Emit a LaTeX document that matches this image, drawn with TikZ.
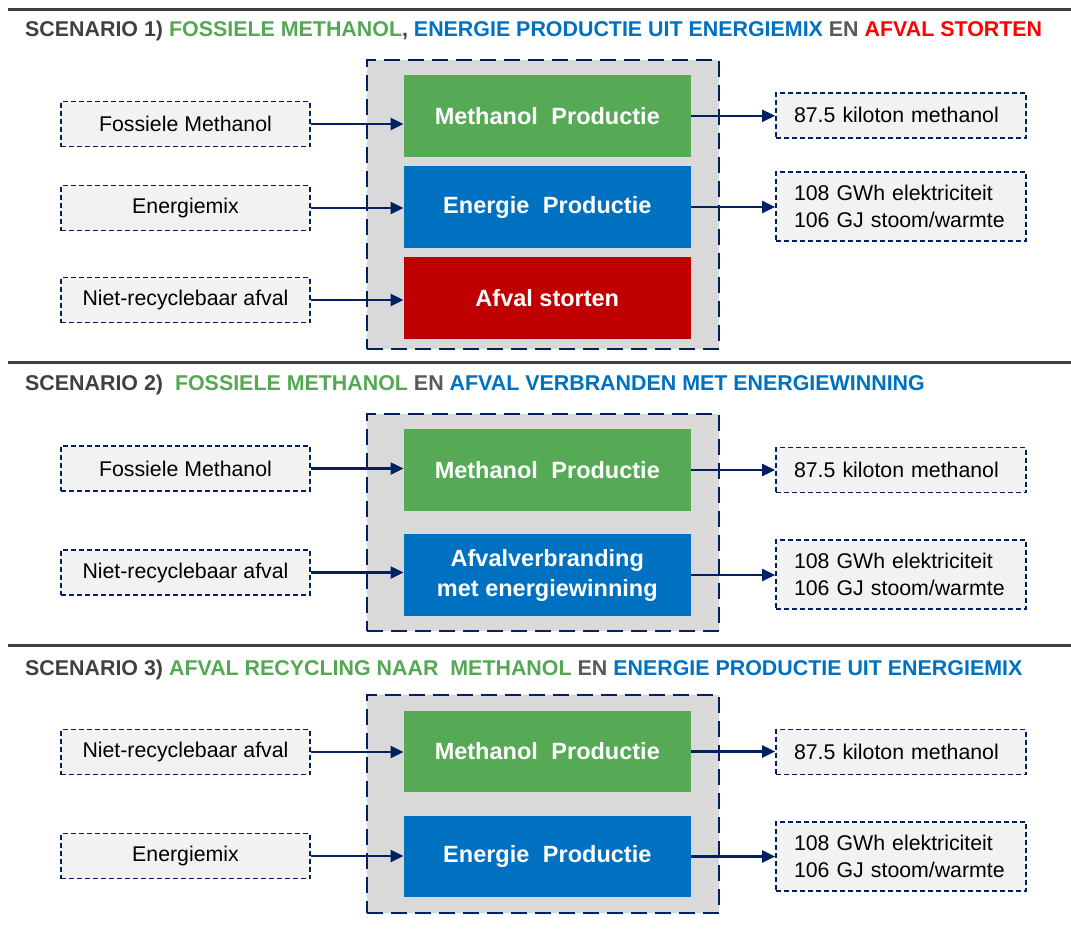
\documentclass[tikz,border=0pt]{standalone}
\usepackage{xcolor}
\usepackage{fontspec}
\setmainfont{Liberation Sans}
\usetikzlibrary{arrows.meta, calc}

\definecolor{navy}{HTML}{002060}
\definecolor{procgreen}{RGB}{86,170,86}
\definecolor{procblue}{HTML}{0070C0}
\definecolor{procred}{HTML}{C00000}
\definecolor{titlegreen}{RGB}{84,168,84}
\definecolor{titleblue}{HTML}{0070C0}
\definecolor{titlered}{HTML}{FF0000}
\definecolor{titlegray}{HTML}{404040}
\definecolor{engray}{HTML}{595959}
\definecolor{boxgray}{HTML}{F2F2F2}
\definecolor{contgray}{HTML}{D9D9D9}

\begin{document}
\begin{tikzpicture}[x=1pt, y=-1pt, >={Triangle[length=13pt, width=12pt]},
  every node/.style={font=\fontsize{21.3}{27.5}\selectfont},
  inbox/.style={draw=navy, fill=boxgray, dash pattern=on 5pt off 3pt, line width=1.7pt, minimum width=249pt, minimum height=45pt, inner sep=0pt},
  outbox/.style={inbox, minimum width=250pt, text width=214pt, inner xsep=18pt, align=left},
  proc/.style={minimum width=287pt, minimum height=81.5pt, inner sep=0pt, text=white, align=center, font=\fontsize{23.5}{30}\selectfont\bfseries},
  cont/.style={draw=navy, fill=contgray, dash pattern=on 16pt off 8pt, line width=2pt, minimum width=352pt, inner sep=0pt},
  title/.style={anchor=base west, inner sep=0pt, font=\fontsize{21.4}{24}\selectfont\bfseries},
  flow/.style={->, draw=navy, line width=2.1pt},
  sepline/.style={draw=titlegray, line width=3.5pt}]
  \useasboundingbox (0,0) rectangle (1071,929);

  % scenario 1
  \draw[sepline] (8,9.3) -- (1071,9.3);
  \node[title] (title1) at (25,36.7) {\textcolor{titlegray}{SCENARIO 1)} \textcolor{titlegreen}{FOSSIELE METHANOL}\textcolor{titlegray}{,} \textcolor{titleblue}{ENERGIE PRODUCTIE UIT ENERGIEMIX} \textcolor{engray}{EN} \textcolor{titlered}{AFVAL STORTEN}};
  \node[cont, minimum height=289pt] (cont1) at (543,204.5) {};
  \node[proc, fill=procgreen] (meth1) at (547.3,115.8) {Methanol\hspace{0.3em} Productie};
  \node[proc, fill=procblue] (energy1) at (547.3,207) {Energie\hspace{0.3em} Productie};
  \node[proc, fill=procred] (landfill1) at (547.3,298) {Afval storten};
  \node[inbox] (fossil1) at (185.5,124) {Fossiele Methanol};
  \node[inbox] (mix1) at (185.5,208) {Energiemix};
  \node[inbox] (waste1) at (185.5,300) {Niet-recyclebaar afval};
  \node[outbox, minimum height=45pt] (methout1) at (901,115.3) {87.5 kiloton methanol};
  \node[outbox, minimum height=69pt] (energyout1) at (901,206.3) {108 GWh elektriciteit\\106 GJ stoom/warmte};
  \draw[flow] (fossil1.east) -- (fossil1.east -| meth1.west);
  \draw[flow] (mix1.east) -- (mix1.east -| energy1.west);
  \draw[flow] (waste1.east) -- (waste1.east -| landfill1.west);
  \draw[flow] (meth1.east) -- (meth1.east -| methout1.west);
  \draw[flow] (energy1.east) -- (energy1.east -| energyout1.west);

  % scenario 2
  \draw[sepline] (8,362.7) -- (1071,362.7);
  \node[title] (title2) at (25,390) {\textcolor{titlegray}{SCENARIO 2)}\ \ \textcolor{titlegreen}{FOSSIELE METHANOL} \textcolor{engray}{EN} \textcolor{titleblue}{AFVAL VERBRANDEN MET ENERGIEWINNING}};
  \node[cont, minimum height=217pt] (cont2) at (543,522.5) {};
  \node[proc, fill=procgreen] (meth2) at (547.3,470) {Methanol\hspace{0.3em} Productie};
  \node[proc, fill=procblue] (burn2) at (547.3,575) {Afvalverbranding\\met energiewinning};
  \node[inbox] (fossil2) at (185.5,468.5) {Fossiele Methanol};
  \node[inbox] (waste2) at (185.5,572.5) {Niet-recyclebaar afval};
  \node[outbox, minimum height=45pt] (methout2) at (901,470) {87.5 kiloton methanol};
  \node[outbox, minimum height=69pt] (energyout2) at (901,574.3) {108 GWh elektriciteit\\106 GJ stoom/warmte};
  \draw[flow] (fossil2.east) -- (fossil2.east -| meth2.west);
  \draw[flow] (waste2.east) -- (waste2.east -| burn2.west);
  \draw[flow] (meth2.east) -- (meth2.east -| methout2.west);
  \draw[flow] (burn2.east) -- (burn2.east -| energyout2.west);

  % scenario 3
  \draw[sepline] (8,645.7) -- (1071,645.7);
  \node[title] (title3) at (25,675) {\textcolor{titlegray}{SCENARIO 3)} \textcolor{titlegreen}{AFVAL RECYCLING NAAR\ \ METHANOL} \textcolor{engray}{EN} \textcolor{titleblue}{ENERGIE PRODUCTIE UIT ENERGIEMIX}};
  \node[cont, minimum height=218pt] (cont3) at (543,804) {};
  \node[proc, fill=procgreen] (meth3) at (547.3,751.5) {Methanol\hspace{0.3em} Productie};
  \node[proc, fill=procblue] (energy3) at (547.3,856.5) {Energie\hspace{0.3em} Productie};
  \node[inbox] (waste3) at (185.5,752) {Niet-recyclebaar afval};
  \node[inbox] (mix3) at (185.5,856) {Energiemix};
  \node[outbox, minimum height=45pt] (methout3) at (901,752) {87.5 kiloton methanol};
  \node[outbox, minimum height=69pt] (energyout3) at (901,856.3) {108 GWh elektriciteit\\106 GJ stoom/warmte};
  \draw[flow] (waste3.east) -- (waste3.east -| meth3.west);
  \draw[flow] (mix3.east) -- (mix3.east -| energy3.west);
  \draw[flow] (meth3.east) -- (meth3.east -| methout3.west);
  \draw[flow] (energy3.east) -- (energy3.east -| energyout3.west);
\end{tikzpicture}
\end{document}
